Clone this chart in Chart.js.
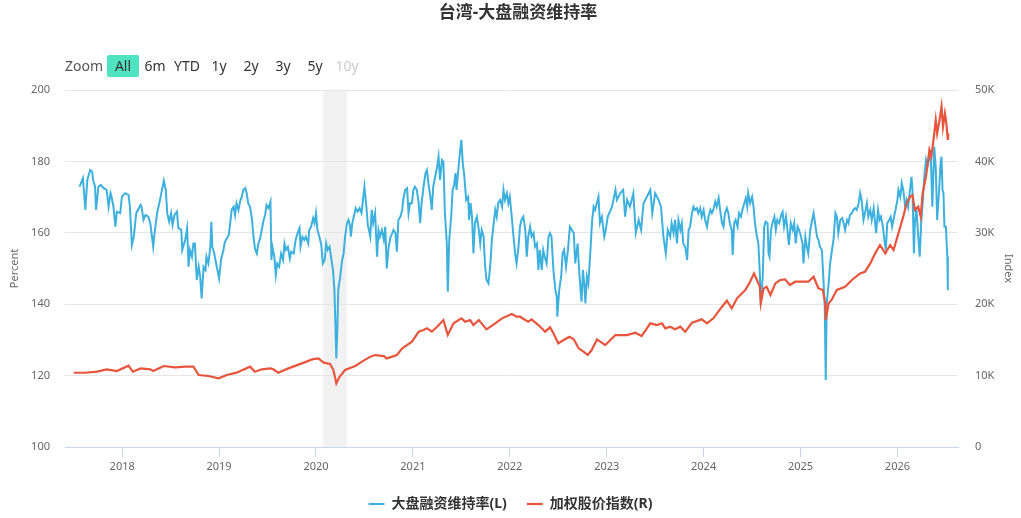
<!DOCTYPE html>
<html><head><meta charset="utf-8">
<script src="https://cdn.jsdelivr.net/npm/chart.js@4.4.0/dist/chart.umd.min.js"></script>
<style>
html,body{margin:0;padding:0;background:#fff;}
#wrap{position:relative;width:1021px;height:518px;font-family:'Noto Sans','Noto Sans CJK SC',sans-serif;}
canvas{position:absolute;left:0;top:0;}
#title{position:absolute;left:518px;top:0;transform:translateX(-50%);font-size:17px;font-weight:bold;color:#333;line-height:24px;white-space:nowrap;}
#rs{position:absolute;left:0;top:55px;height:22px;width:400px;font-size:14px;}
.lbl{position:absolute;left:65px;top:0;line-height:22px;color:#555;}
.btn{position:absolute;top:0;width:32px;height:22px;line-height:22px;text-align:center;color:#333;border-radius:2px;}
.btn.sel{background:#50e3c2;}
.btn.dis{color:#ccc;}
</style></head>
<body>
<div id="wrap">
<canvas id="c" width="1021" height="518"></canvas>
<div id="title">台湾-大盘融资维持率</div>
<div id="rs"></div>
</div>
<script>
// ---- data ----
const titleText = '台湾-大盘融资维持率';
const rangeButtons = ['All','6m','YTD','1y','2y','3y','5y','10y'];
const yearTicks = [2018,2019,2020,2021,2022,2023,2024,2025,2026];
const leftTicks = [100,120,140,160,180,200];
const rightTicks = [0,10000,20000,30000,40000,50000];
const seriesNames = ['大盘融资维持率(L)','加权股价指数(R)'];
const shadedBand = [2020.075, 2020.32];
// [decimal year, ratio %]
const ratioPoints = [
[2017.56,172.9],[2017.595,175.3],[2017.62,166.4],[2017.64,174.8],[2017.67,177.6],[2017.69,177.1],[2017.70,174.8],[2017.72,172.9],[2017.73,166.4],[2017.755,172.9],[2017.78,173.4],[2017.81,172.5],[2017.84,172.0],[2017.86,167.3],[2017.88,171.1],[2017.89,170.1],[2017.91,167.3],[2017.93,161.7],[2017.945,165.9],[2017.98,165.5],[2017.997,170.1],[2018.03,171.1],[2018.065,170.6],[2018.08,167.3],[2018.10,156.6],[2018.12,158.9],[2018.145,165.5],[2018.19,167.8],[2018.20,167.3],[2018.22,163.6],[2018.24,165.0],[2018.27,164.5],[2018.29,162.7],[2018.32,156.1],[2018.33,158.9],[2018.36,165.5],[2018.39,169.2],[2018.43,174.6],[2018.45,172.0],
[2018.465,165.5],[2018.485,163.1],[2018.505,165.5],[2018.52,162.2],[2018.54,165.0],[2018.565,165.9],[2018.58,161.3],[2018.61,160.8],[2018.62,155.2],[2018.65,158.0],[2018.67,161.3],[2018.685,150.5],[2018.70,155.2],[2018.72,153.3],[2018.735,157.0],[2018.75,157.0],[2018.77,146.8],[2018.79,150.5],[2018.805,147.7],[2018.82,141.6],[2018.84,150.5],[2018.86,149.6],[2018.87,153.3],[2018.89,151.4],[2018.91,156.1],[2018.92,163.1],[2018.93,156.1],[2018.95,154.2],[2018.98,150.0],[2019.00,147.2],[2019.02,152.4],[2019.045,155.2],[2019.06,157.5],[2019.10,159.4],[2019.115,162.7],[2019.13,166.4],[2019.15,167.3],[2019.165,165.0],[2019.18,168.3],[2019.20,166.4],[2019.22,169.2],[2019.235,170.1],[2019.25,172.0],[2019.27,172.5],[2019.285,171.1],[2019.30,168.3],[2019.32,167.3],[2019.34,163.6],[2019.355,158.9],[2019.37,155.6],[2019.39,154.2],[2019.405,157.0],[2019.42,158.0],[2019.44,160.8],[2019.46,163.6],[2019.475,165.0],[2019.49,167.8],
[2019.51,166.9],[2019.53,168.7],[2019.54,152.4],[2019.55,156.1],[2019.57,153.3],[2019.585,148.2],[2019.60,151.4],[2019.62,150.5],[2019.64,154.2],[2019.66,152.4],[2019.675,157.0],[2019.69,155.2],[2019.71,156.1],[2019.73,152.8],[2019.745,154.7],[2019.77,154.2],[2019.79,158.0],[2019.81,159.9],[2019.83,161.3],[2019.84,156.1],[2019.86,158.9],[2019.88,158.0],[2019.895,158.9],[2019.92,157.0],[2019.93,160.8],[2019.95,161.7],[2019.97,164.1],[2019.985,162.7],[2020.00,165.5],[2020.015,160.8],[2020.035,158.9],[2020.055,156.6],[2020.07,151.4],[2020.09,152.4],[2020.105,157.0],[2020.12,155.2],[2020.14,156.1],[2020.16,152.4],[2020.175,149.6],[2020.19,144.0],[2020.20,134.6],[2020.21,124.8],[2020.22,132.8],[2020.23,144.0],[2020.25,147.7],[2020.27,152.4],[2020.285,154.2],[2020.30,158.9],[2020.32,162.7],[2020.335,163.6],[2020.35,162.2],[2020.36,158.9],[2020.375,162.7],[2020.39,164.5],[2020.41,166.9],[2020.43,165.9],[2020.45,166.9],[2020.47,165.5],[2020.485,169.2],[2020.50,172.9],[2020.52,167.3],[2020.535,162.2],
[2020.56,158.9],[2020.575,166.4],[2020.59,162.7],[2020.61,165.5],[2020.63,153.3],[2020.645,160.8],[2020.66,158.9],[2020.68,160.8],[2020.70,158.0],[2020.715,161.7],[2020.73,150.0],[2020.75,156.1],[2020.77,158.9],[2020.78,159.4],[2020.80,160.8],[2020.82,159.9],[2020.835,154.7],[2020.85,163.6],[2020.87,164.5],[2020.89,166.4],[2020.90,169.2],[2020.92,172.0],[2020.94,172.5],[2020.955,165.5],[2020.97,168.3],[2020.99,168.3],[2021.005,172.0],[2021.02,172.9],[2021.04,172.0],[2021.06,168.3],[2021.075,162.7],[2021.09,168.3],[2021.11,172.9],[2021.13,176.7],[2021.145,177.6],[2021.16,173.9],[2021.18,170.1],[2021.195,166.4],[2021.21,172.9],[2021.23,175.7],[2021.25,178.5],[2021.265,181.3],[2021.28,174.8],[2021.30,180.4],[2021.315,179.9],[2021.33,165.5],[2021.35,157.0],[2021.36,143.5],[2021.375,158.0],[2021.395,164.5],[2021.41,172.0],[2021.425,173.4],[2021.44,176.7],[2021.45,172.0],[2021.47,178.1],[2021.485,182.3],[2021.50,186.0],[2021.515,179.5],
[2021.53,176.0],[2021.55,169.2],[2021.57,170.1],
[2021.58,163.6],[2021.595,168.3],[2021.61,164.5],[2021.625,154.2],[2021.64,162.7],[2021.66,164.5],[2021.68,160.8],[2021.695,157.0],[2021.71,160.8],[2021.73,158.9],[2021.745,150.5],[2021.76,146.8],[2021.78,145.8],[2021.80,151.4],[2021.815,158.0],[2021.83,161.7],[2021.85,166.4],[2021.865,164.5],[2021.88,168.3],[2021.90,169.2],[2021.92,167.3],[2021.935,172.0],[2021.95,169.2],[2021.97,171.1],[2021.985,168.3],[2022.00,170.1],[2022.02,164.5],[2022.035,159.9],[2022.055,154.2],[2022.07,151.4],[2022.09,156.1],[2022.105,161.7],[2022.12,163.6],[2022.14,164.5],[2022.16,160.8],[2022.175,153.3],[2022.19,158.9],[2022.21,161.7],[2022.225,158.9],[2022.245,159.9],[2022.26,156.1],[2022.28,157.0],[2022.295,149.6],[2022.31,155.2],[2022.33,149.6],[2022.345,155.2],[2022.36,153.3],[2022.38,151.4],[2022.40,158.9],[2022.415,159.9],[2022.43,158.9],[2022.45,149.6],[2022.47,144.0],[2022.485,142.1],[2022.49,136.5],[2022.51,144.0],[2022.53,147.7],[2022.545,154.2],[2022.56,155.2],
[2022.58,150.5],[2022.60,155.2],[2022.62,161.7],
[2022.66,159.9],[2022.675,151.4],[2022.70,157.0],[2022.715,149.6],[2022.73,144.0],[2022.74,140.7],[2022.755,149.6],[2022.77,144.9],[2022.78,140.2],[2022.795,147.7],[2022.81,145.8],[2022.83,154.2],[2022.85,163.6],[2022.865,167.3],[2022.88,166.4],[2022.915,170.1],[2022.93,162.7],[2022.95,164.5],[2022.975,158.9],[2022.99,160.8],[2023.01,164.5],[2023.055,167.3],[2023.09,172.0],[2023.105,169.2],[2023.14,171.1],[2023.17,172.0],[2023.19,164.5],[2023.21,169.2],[2023.24,167.3],[2023.275,171.1],[2023.30,159.9],[2023.33,163.6],[2023.355,160.8],[2023.38,168.3],[2023.415,170.1],[2023.45,172.0],[2023.47,165.5],[2023.50,171.1],[2023.535,169.2],[2023.56,167.3],[2023.585,158.9],[2023.61,154.2],[2023.63,160.8],
[2023.655,158.9],[2023.67,162.7],[2023.69,159.9],[2023.705,163.6],[2023.725,157.0],[2023.74,163.6],[2023.76,160.8],[2023.775,162.7],[2023.79,157.0],[2023.81,156.1],[2023.83,152.4],[2023.845,160.8],[2023.86,161.7],[2023.88,165.5],[2023.895,167.3],[2023.91,166.4],[2023.93,166.9],[2023.945,165.5],[2023.965,166.9],[2023.98,164.5],[2024.00,166.4],[2024.015,163.6],[2024.035,161.7],[2024.05,164.5],[2024.07,166.4],[2024.085,165.5],[2024.10,166.4],[2024.12,168.7],[2024.135,167.3],[2024.155,169.7],[2024.17,166.4],[2024.19,162.7],[2024.205,161.7],[2024.22,165.5],[2024.24,166.9],[2024.255,165.5],[2024.27,162.7],[2024.29,160.8],[2024.30,153.8],[2024.315,162.7],[2024.33,163.6],[2024.35,161.7],[2024.365,165.5],[2024.385,164.5],[2024.40,166.4],[2024.42,168.3],[2024.435,169.7],[2024.45,167.3],[2024.46,171.1],[2024.48,168.3],[2024.50,170.1],[2024.515,167.3],[2024.53,162.7],[2024.55,158.9],[2024.565,157.0],[2024.58,148.6],[2024.59,139.8],[2024.61,147.7],[2024.625,161.7],[2024.64,163.1],[2024.66,162.7],[2024.67,154.2],[2024.68,153.3],
[2024.695,160.8],[2024.71,162.7],[2024.73,164.5],[2024.745,160.8],[2024.76,163.6],[2024.78,162.7],[2024.80,165.0],[2024.815,165.9],[2024.83,161.7],[2024.85,164.5],[2024.865,160.8],[2024.88,156.6],[2024.90,162.7],[2024.92,160.8],[2024.935,162.7],[2024.95,157.0],[2024.97,161.7],[2024.985,160.8],[2025.005,158.9],[2025.02,157.0],[2025.03,151.4],[2025.05,158.9],[2025.065,156.1],[2025.08,154.2],[2025.10,160.8],[2025.12,163.6],[2025.135,165.5],[2025.15,162.7],[2025.17,158.9],[2025.185,158.0],[2025.20,156.1],[2025.22,155.2],[2025.235,147.7],[2025.25,139.3],[2025.26,118.8],[2025.27,140.2],[2025.29,145.8],[2025.305,151.4],[2025.32,154.2],[2025.34,158.0],[2025.36,165.5],[2025.375,164.5],[2025.39,159.9],[2025.41,163.6],[2025.43,164.1],[2025.445,162.7],[2025.46,160.8],[2025.48,163.6],[2025.495,162.7],[2025.51,165.0],[2025.53,165.5],[2025.545,166.4],[2025.565,166.9],[2025.58,166.4],[2025.60,168.3],[2025.615,171.1],[2025.63,169.2],[2025.65,163.6],
[2025.665,165.5],[2025.685,168.3],[2025.70,164.5],[2025.72,166.4],[2025.735,163.6],[2025.755,166.9],[2025.77,162.7],[2025.78,159.9],[2025.80,166.4],[2025.815,163.6],[2025.83,164.5],[2025.85,161.7],[2025.865,158.0],[2025.88,155.2],[2025.895,162.7],[2025.915,163.6],[2025.93,164.5],[2025.945,161.7],[2025.965,164.5],[2025.98,166.4],[2026.00,169.2],[2026.01,172.0],[2026.03,170.1],[2026.045,173.9],[2026.06,172.0],[2026.08,167.3],[2026.095,169.2],[2026.11,167.3],[2026.13,172.0],[2026.145,175.7],[2026.155,172.0],[2026.17,154.2],[2026.18,162.7],[2026.195,167.3],[2026.21,160.8],[2026.23,153.3],[2026.245,162.7],[2026.26,168.3],[2026.28,176.7],[2026.295,180.4],[2026.31,178.5],[2026.33,181.3],[2026.34,183.2],[2026.35,176.7],[2026.36,167.3],[2026.38,184.1],[2026.395,178.5],[2026.41,163.6],[2026.43,172.0],[2026.445,179.5],[2026.455,181.3],[2026.465,172.0],[2026.475,171.1],[2026.485,161.7],[2026.50,161.7],[2026.515,153.3],[2026.52,144.0]
];
// [decimal year, index level]
const indexPoints = [
[2017.50,10400],[2017.62,10400],[2017.74,10550],[2017.84,10880],[2017.945,10640],[2018.065,11390],[2018.11,10550],[2018.19,11010],[2018.29,10880],[2018.32,10640],[2018.43,11340],[2018.545,11150],[2018.65,11250],[2018.735,11250],[2018.79,10080],[2018.89,9940],[2018.995,9610],[2019.08,10080],[2019.18,10410],[2019.32,11250],[2019.37,10550],[2019.44,10880],[2019.53,11010],
[2019.56,10880],[2019.61,10410],[2019.715,11010],[2019.855,11710],[2019.96,12270],[2020.025,12410],[2020.08,11810],[2020.145,11620],[2020.18,10780],[2020.21,8910],[2020.24,9750],[2020.30,10780],[2020.405,11340],[2020.475,11950],
[2020.56,12650],[2020.61,12880],[2020.70,12740],[2020.73,12410],[2020.835,12880],[2020.89,13820],[2020.99,14750],[2021.06,16150],[2021.11,16380],[2021.145,16620],[2021.195,16150],[2021.25,16850],[2021.315,17780],[2021.36,15680],[2021.42,17320],[2021.50,18020],[2021.54,17550],[2021.59,17780],
[2021.625,17080],[2021.68,17780],[2021.76,16480],[2021.85,17320],[2021.92,18020],[2022.02,18620],[2022.07,18250],[2022.105,18250],[2022.16,17780],[2022.19,17550],[2022.225,17880],[2022.295,17080],[2022.365,16150],[2022.415,16760],[2022.45,15920],[2022.50,14520],[2022.555,14980],[2022.615,15450],
[2022.66,15080],[2022.71,13820],[2022.76,13350],[2022.805,12880],[2022.845,13580],[2022.90,15080],[2022.985,14280],[2023.09,15680],[2023.21,15680],[2023.295,16010],[2023.36,15540],[2023.45,17320],[2023.52,17080],[2023.57,17320],[2023.605,16620],[2023.655,16850],
[2023.705,16480],[2023.76,16850],[2023.81,16150],[2023.88,17410],[2023.98,17880],[2024.035,17320],[2024.10,18020],[2024.19,19650],[2024.24,20490],[2024.29,19420],[2024.345,20820],[2024.43,21990],[2024.48,23150],[2024.52,24320],[2024.55,23390],[2024.58,22450],[2024.59,20120],[2024.62,22220],[2024.65,22450],
[2024.69,21290],[2024.74,22920],[2024.79,23390],[2024.84,23480],[2024.89,22690],[2024.945,23150],[2025.015,23150],[2025.08,23150],[2025.135,23850],[2025.185,22220],[2025.23,21990],[2025.255,20120],[2025.26,17780],[2025.29,20120],[2025.32,20590],[2025.375,21990],[2025.46,22450],[2025.53,23390],[2025.615,24320],[2025.665,24550],
[2025.72,25720],[2025.77,27120],[2025.82,28290],[2025.875,27120],[2025.925,28290],[2025.96,27590],[2026.01,29920],[2026.06,32260],[2026.095,34130],[2026.13,35060],[2026.155,35290],[2026.18,33190],[2026.215,33660],[2026.24,32260],[2026.26,35530],[2026.295,37860],[2026.33,41600],[2026.35,40660],[2026.38,43930],[2026.395,45800],[2026.41,43930],[2026.44,46260],[2026.455,47670],[2026.47,44860],[2026.49,46730],[2026.505,45330],[2026.52,43000],[2026.525,43930]
];

// ---- range selector (static) ----
const rs = document.getElementById('rs');
const z = document.createElement('div'); z.className='lbl'; z.textContent='Zoom'; rs.appendChild(z);
rangeButtons.forEach((b,i)=>{
  const d=document.createElement('div');
  d.className='btn'+(i===0?' sel':'')+(b==='10y'?' dis':'');
  d.style.left=(107+32*i)+'px'; d.textContent=b; rs.appendChild(d);
});
document.getElementById('title').textContent = titleText;

const FONT = "'Noto Sans','Noto Sans CJK SC',sans-serif";
Chart.defaults.font.family = FONT;
const BLUE = '#3eb0de', RED = '#e8553d';

const bandPlugin = {
  id:'band',
  beforeDraw(chart){
    const {ctx, chartArea:a, scales:{x}} = chart;
    const x0 = x.getPixelForValue(shadedBand[0]), x1 = x.getPixelForValue(shadedBand[1]);
    ctx.save(); ctx.fillStyle='#f2f2f2'; ctx.fillRect(x0, a.top, x1-x0, a.bottom-a.top); ctx.restore();
  }
};

new Chart(document.getElementById('c'), {
  type:'line',
  data:{datasets:[
    {label:seriesNames[0], data:ratioPoints.map(p=>({x:p[0],y:p[1]})), borderColor:BLUE, backgroundColor:BLUE,
     borderWidth:2, pointRadius:0, tension:0, yAxisID:'yL', order:1},
    {label:seriesNames[1], data:indexPoints.map(p=>({x:p[0],y:p[1]})), borderColor:RED, backgroundColor:RED,
     borderWidth:2.2, pointRadius:0, tension:0, yAxisID:'yR', order:0}
  ]},
  options:{
    responsive:false, animation:false, events:[],
    layout:{padding:{top:90,left:0,right:0,bottom:-3}},
    plugins:{
      legend:{position:'bottom', labels:{usePointStyle:true, pointStyle:'line', pointStyleWidth:16,
        font:{size:14, weight:'bold'}, color:'#333', padding:20,
        sort:(a,b)=>a.datasetIndex-b.datasetIndex}},
      tooltip:{enabled:false}, title:{display:false}
    },
    scales:{
      x:{type:'linear', min:2017.41, max:2026.625,
        afterBuildTicks:s=>{s.ticks = yearTicks.map(v=>({value:v}));},
        ticks:{callback:v=>String(v), color:'#666', font:{size:11}, padding:3, maxRotation:0, autoSkip:false},
        grid:{drawOnChartArea:false, drawTicks:true, tickLength:10, color:'#ccd6eb'},
        border:{color:'#ccd6eb'},
        afterFit:s=>{s.height=30;}},
      yL:{position:'left', min:100, max:200,
        afterBuildTicks:s=>{s.ticks = leftTicks.map(v=>({value:v}));},
        ticks:{color:'#666', font:{size:11}, padding:15},
        grid:{color:'#e6e6e6', drawTicks:false}, border:{display:false},
        title:{display:true, text:'Percent', color:'#666', font:{size:11}, padding:{top:8,bottom:0}},
        afterFit:s=>{s.width=65;}},
      yR:{position:'right', min:0, max:50000,
        afterBuildTicks:s=>{s.ticks = rightTicks.map(v=>({value:v}));},
        ticks:{color:'#666', font:{size:11}, padding:17, callback:v=>v===0?'0':(v/1000)+'K'},
        grid:{drawOnChartArea:false, drawTicks:false}, border:{display:false},
        title:{display:true, text:'Index', color:'#666', font:{size:11}, padding:{top:6,bottom:0}},
        afterFit:s=>{s.width=63;}}
    }
  },
  plugins:[bandPlugin]
});
</script>
</body></html>
